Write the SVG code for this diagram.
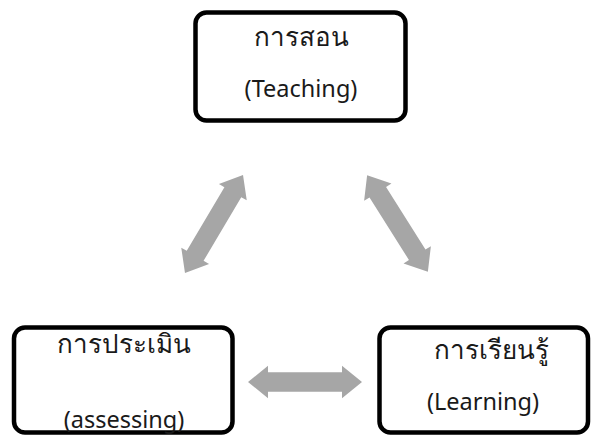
<svg xmlns="http://www.w3.org/2000/svg" width="592" height="436" viewBox="0 0 592 436">
  <style>
    .box { fill: #ffffff; stroke: #000000; stroke-width: 4.5; }
    .label { font-family: "Noto Sans", "DejaVu Sans", sans-serif; font-size: 23.5px; fill: #1a1a1a; text-anchor: middle; }
    .th { font-size: 26px; }
    .arrow { fill: #a6a6a6; }
  </style>
  <defs>
    <!-- double-headed block arrow, 114 long, centred on the origin -->
    <path id="dbl" d="M -57 0 L -37 -19 L -37 -11.5 L 37 -11.5 L 37 -19 L 57 0 L 37 19 L 37 11.5 L -37 11.5 L -37 19 Z"/>
  </defs>

  <rect width="592" height="436" fill="#ffffff"/>

  <g id="connectors" class="arrow">
    <use href="#dbl" transform="translate(214 224) rotate(-59.4) scale(1 0.85)"/>
    <use href="#dbl" transform="translate(397.5 223.5) rotate(57.8) scale(1 0.85)"/>
    <use href="#dbl" transform="translate(305 382) scale(1 0.85)"/>
  </g>

  <g id="teaching">
    <rect class="box" x="195.5" y="12.5" width="210" height="108" rx="11"/>
    <text class="label th" x="301" y="46">การสอน</text>
    <text class="label" x="301" y="97">(Teaching)</text>
  </g>

  <g id="assessing">
    <rect class="box" x="14" y="327.5" width="218.5" height="105" rx="11"/>
    <text class="label th" x="124" y="353">การประเมิน</text>
    <text class="label" x="124" y="428">(assessing)</text>
  </g>

  <g id="learning">
    <rect class="box" x="379.5" y="327.5" width="208.5" height="105" rx="11"/>
    <text class="label th" x="491" y="359">การเรียนรู้</text>
    <text class="label" x="483" y="410">(Learning)</text>
  </g>
</svg>
